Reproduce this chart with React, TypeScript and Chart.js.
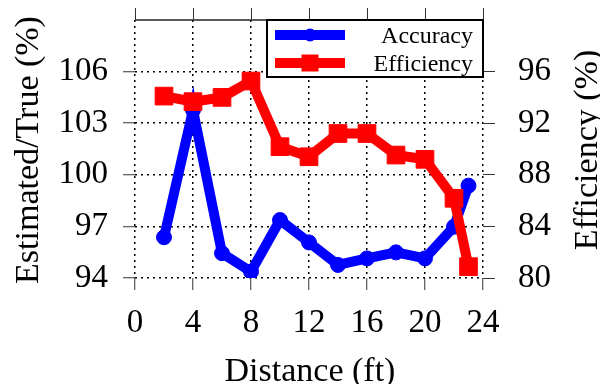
import React, { useEffect, useRef } from "react";
import { Chart, registerables } from "chart.js";

Chart.register(...registerables);

const distances = [2, 4, 6, 8, 10, 12, 14, 16, 18, 20, 22, 23];
const accuracy = [96.37, 103.77, 95.44, 94.37, 97.37, 96.07, 94.76, 95.14, 95.49, 95.14, 96.98, 99.37];
const efficiency = [94.1, 93.67, 94.0, 95.27, 90.18, 89.4, 91.2, 91.2, 89.53, 89.2, 86.18, 80.88];
const xTicks = [0, 4, 8, 12, 16, 20, 24];
const leftTicks = [94, 97, 100, 103, 106];
const rightTicks = [80, 84, 88, 92, 96];
const seriesNames = ["Accuracy", "Efficiency"];
const seriesColors = ["#0000ff", "#ff0000"];
const xTitle = "Distance (ft)";
const leftTitle = "Estimated/True (%)";
const rightTitle = "Efficiency (%)";

const FONT = "'Liberation Serif', 'Times New Roman', serif";

const decor = {
  id: "decor",
  afterDatasetsDraw(chart: any) {
    const { ctx, chartArea: ca, scales } = chart;
    ctx.save();
    // top border
    ctx.strokeStyle = "#222";
    ctx.lineWidth = 1.5;
    ctx.setLineDash([]);
    ctx.beginPath();
    ctx.moveTo(ca.left, ca.top);
    ctx.lineTo(ca.right, ca.top);
    ctx.stroke();
    // top mirror ticks
    ctx.lineWidth = 1;
    ctx.strokeStyle = "#333";
    ctx.beginPath();
    xTicks.forEach((v) => {
      const px = Math.round(scales.x.getPixelForValue(v)) + 0.5;
      ctx.moveTo(px, ca.top - 12);
      ctx.lineTo(px, ca.top);
    });
    ctx.stroke();

    // legend
    const lw = 216;
    const lh = 57;
    const lx = ca.right - lw;
    const ly = ca.top;
    ctx.fillStyle = "#fff";
    ctx.fillRect(lx, ly, lw, lh);
    ctx.strokeStyle = "#000";
    ctx.lineWidth = 2;
    ctx.strokeRect(lx, ly, lw, lh);
    const rows = [ly + 15, ly + 43];
    seriesNames.forEach((name, i) => {
      const y = rows[i];
      ctx.strokeStyle = seriesColors[i];
      ctx.fillStyle = seriesColors[i];
      ctx.lineWidth = 10;
      ctx.beginPath();
      ctx.moveTo(lx + 8, y);
      ctx.lineTo(lx + 78, y);
      ctx.stroke();
      if (i === 0) {
        ctx.beginPath();
        ctx.arc(lx + 43, y, 6.5, 0, Math.PI * 2);
        ctx.fill();
      } else {
        ctx.fillRect(lx + 43 - 8.5, y - 8.5, 17, 17);
      }
      ctx.fillStyle = "#000";
      ctx.font = `24px ${FONT}`;
      ctx.textAlign = "right";
      ctx.textBaseline = "alphabetic";
      ctx.fillText(name, ca.right - 10, y + 8);
    });
    ctx.restore();
  },
  afterDraw(chart: any) {
    const { ctx, chartArea: ca } = chart;
    ctx.save();
    ctx.fillStyle = "#000";
    ctx.font = `34px ${FONT}`;
    ctx.textAlign = "center";
    ctx.textBaseline = "alphabetic";
    ctx.fillText(xTitle, (ca.left + ca.right) / 2 + 1, 381);
    const cy = (ca.top + ca.bottom) / 2 + 1;
    ctx.textBaseline = "middle";
    ctx.save();
    ctx.translate(29, cy);
    ctx.rotate(-Math.PI / 2);
    ctx.fillText(leftTitle, 0, 0);
    ctx.restore();
    ctx.save();
    ctx.translate(588, cy);
    ctx.rotate(-Math.PI / 2);
    ctx.fillText(rightTitle, 0, 0);
    ctx.restore();
    ctx.restore();
  },
};

const noPad = (s: any) => {
  s.paddingTop = 0;
  s.paddingBottom = 0;
  s.paddingLeft = 0;
  s.paddingRight = 0;
};

export default function App() {
  const ref = useRef<HTMLCanvasElement>(null);
  useEffect(() => {
    document.body.style.margin = "0";
    const canvas = ref.current;
    if (!canvas) return;
    const chart = new Chart(canvas, {
      type: "line",
      data: {
        datasets: [
          {
            label: seriesNames[0],
            data: distances.map((d, i) => ({ x: d, y: accuracy[i] })),
            yAxisID: "y",
            borderColor: seriesColors[0],
            backgroundColor: seriesColors[0],
            borderWidth: 10,
            pointStyle: "circle",
            pointRadius: 7.5,
            pointBorderWidth: 1,
            tension: 0,
            order: 1,
          },
          {
            label: seriesNames[1],
            data: distances.map((d, i) => ({ x: d, y: efficiency[i] })),
            yAxisID: "y1",
            borderColor: seriesColors[1],
            backgroundColor: seriesColors[1],
            borderWidth: 10,
            pointStyle: "rect",
            pointRadius: 12.5,
            pointBorderWidth: 1,
            tension: 0,
            order: 0,
          },
        ],
      },
      options: {
        animation: false,
        responsive: false,
        layout: { padding: { top: 20, left: 0, right: 0, bottom: 0 } },
        plugins: { legend: { display: false }, tooltip: { enabled: false } },
        scales: {
          x: {
            type: "linear",
            position: "bottom",
            min: 0,
            max: 24,
            afterBuildTicks: (s: any) => {
              s.ticks = xTicks.map((v) => ({ value: v }));
            },
            afterFit: (s: any) => {
              s.height = 106;
              noPad(s);
            },
            ticks: {
              autoSkip: false,
              maxRotation: 0,
              padding: 14,
              color: "#000",
              font: { family: FONT, size: 33 },
            },
            grid: {
              color: "#000",
              lineWidth: 1.5,
              tickLength: 12,
              tickColor: "#333",
              tickWidth: 1,
              tickBorderDash: [],
            },
            border: { display: false, dash: [2, 4] },
          },
          y: {
            type: "linear",
            position: "left",
            min: 94,
            max: 109,
            afterBuildTicks: (s: any) => {
              s.ticks = leftTicks.map((v) => ({ value: v }));
            },
            afterFit: (s: any) => {
              s.width = 135;
              noPad(s);
            },
            ticks: {
              autoSkip: false,
              padding: 15,
              color: "#000",
              font: { family: FONT, size: 33 },
            },
            grid: {
              color: "#000",
              lineWidth: 1.5,
              tickLength: 12,
              tickColor: "#333",
              tickWidth: 1,
              tickBorderDash: [],
            },
            border: { display: false, dash: [2, 4] },
          },
          y1: {
            type: "linear",
            position: "right",
            min: 80,
            max: 100,
            afterBuildTicks: (s: any) => {
              s.ticks = rightTicks.map((v) => ({ value: v }));
            },
            afterFit: (s: any) => {
              s.width = 117;
              noPad(s);
            },
            ticks: {
              autoSkip: false,
              padding: 23,
              color: "#000",
              font: { family: FONT, size: 33 },
            },
            grid: {
              drawOnChartArea: false,
              tickLength: 12,
              tickColor: "#333",
              tickWidth: 1,
            },
            border: { display: false },
          },
        },
      },
      plugins: [decor],
    } as any);
    return () => chart.destroy();
  }, []);
  return (
    <div style={{ width: 600, height: 384 }}>
      <canvas ref={ref} width={600} height={384} style={{ display: "block" }} />
    </div>
  );
}
